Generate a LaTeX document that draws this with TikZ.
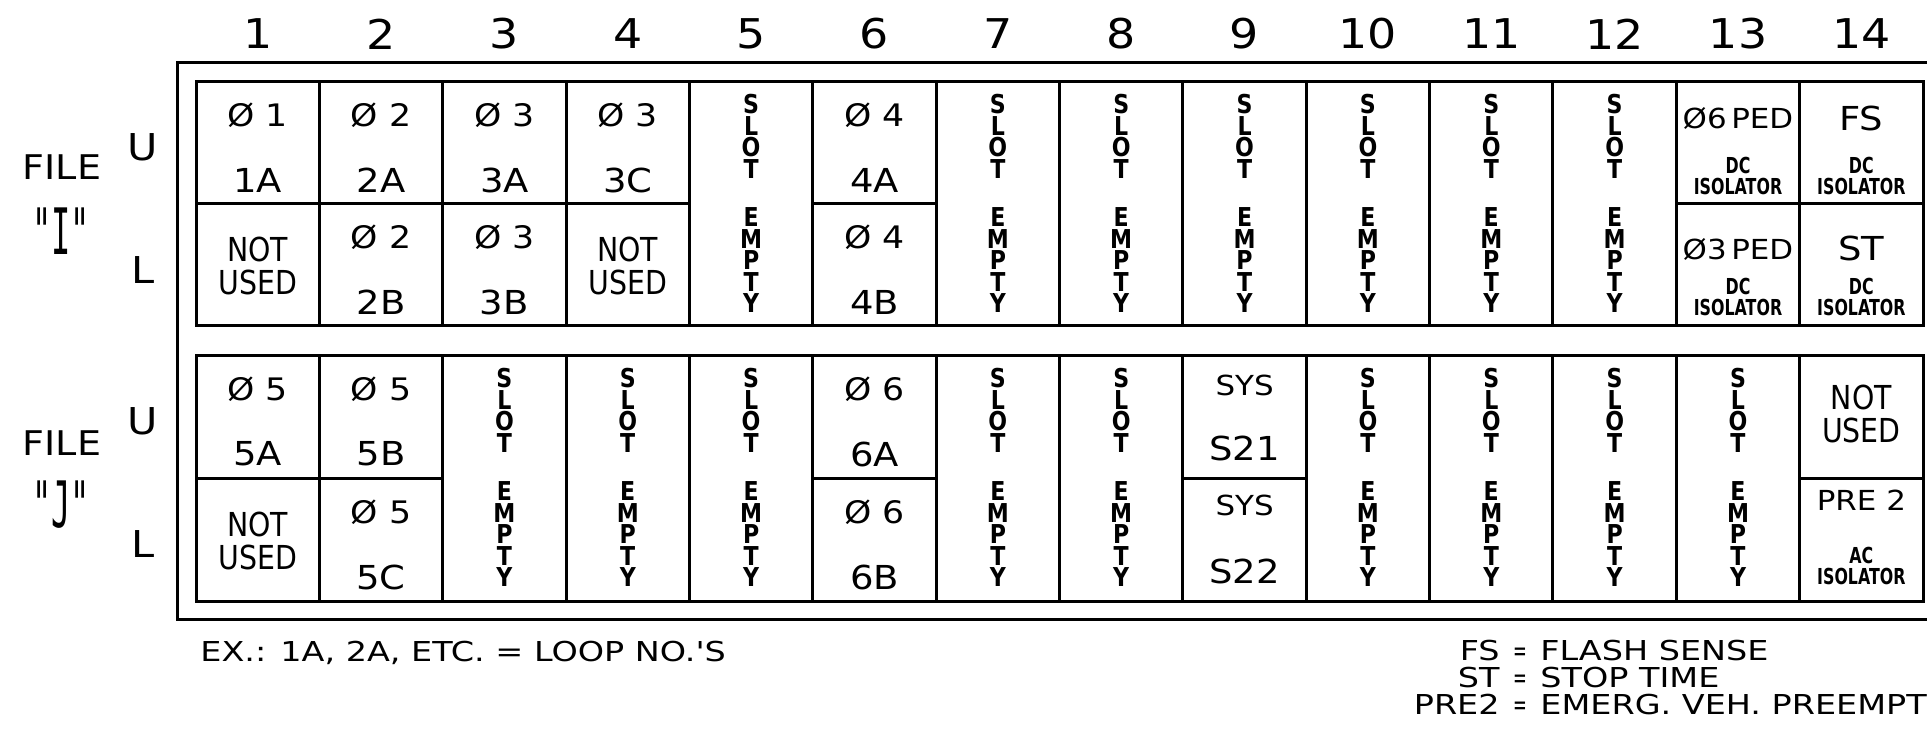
\documentclass[tikz,border=0pt]{standalone}
\usepackage{fontspec}
\setmainfont{DejaVu Sans}
\newfontfamily\cadf[FakeStretch=1.12]{DejaVu Sans}
\newfontfamily\cadn[FakeStretch=0.86]{DejaVu Sans}
\newfontfamily\cadb[FakeStretch=0.72]{DejaVu Sans}
\newfontfamily\cadv[FakeStretch=0.85]{DejaVu Sans}
\newfontfamily\cadl[FakeStretch=1.22]{DejaVu Sans}
\newfontfamily\cadq[FakeStretch=0.6]{DejaVu Sans}
\newfontfamily\labf[FakeStretch=0.5]{DejaVu Sans Mono}
\newcommand\pcell[5]{%
  \node[ph]  (#1p) at ({196+123.36*(#2-0.5)},{#3+34}) {#4};
  \node[lab] (#1l) at ({196+123.36*(#2-0.5)},{#3+99}) {#5};}
\tikzset{
  frame/.style={line width=1.5pt},
  head/.style={font=\cadf\fontsize{20.5}{22}\selectfont,inner sep=0pt},
  lab/.style={font=\cadf\fontsize{16.5}{18}\selectfont,inner sep=0pt},
  ph/.style={font=\cadf\fontsize{15.5}{16}\selectfont,inner sep=0pt},
  ped/.style={font=\cadf\fontsize{13.8}{16}\selectfont,inner sep=0pt},
  nu/.style={font=\cadn\fontsize{16.5}{16.5}\selectfont,align=center,inner sep=0pt},
  vt/.style={font=\cadv\bfseries\fontsize{13}{10.75}\selectfont,align=center,inner sep=0pt},
  iso/.style={font=\cadb\bfseries\fontsize{11}{10.5}\selectfont,align=center,inner sep=0pt},
  side/.style={font=\cadf\fontsize{17}{18}\selectfont,inner sep=0pt},
  ul/.style={font=\cadf\fontsize{18.5}{20}\selectfont,inner sep=0pt},
  fl/.style={font=\labf\fontsize{32}{32}\selectfont,inner sep=0pt},
  leg/.style={font=\cadl\fontsize{13.7}{15}\selectfont,inner sep=0pt},
  legeq/.style={font=\cadq\fontsize{13.7}{15}\selectfont,inner sep=0pt},
}
\begin{document}
\begin{tikzpicture}[x=0.5pt,y=-0.5pt]
\useasboundingbox (0,0) rectangle (1927,755);
\clip (0,0) rectangle (1927,755);
% outer frame
\draw[frame] (177,62) rectangle (1945,619);
% bands
\draw[frame] (196,81) rectangle (1923,325);
\draw[frame] (196,355) rectangle (1923,601);
\foreach \i in {1,...,13} {
  \draw[frame] ({196+123.36*\i},81) -- ({196+123.36*\i},325);
  \draw[frame] ({196+123.36*\i},355) -- ({196+123.36*\i},601);
}
% U/L splits, file I
\draw[frame] (196,203) -- ({196+4*123.36},203);
\draw[frame] ({196+5*123.36},203) -- ({196+6*123.36},203);
\draw[frame] ({196+12*123.36},203) -- (1923,203);
% U/L splits, file J
\draw[frame] (196,478) -- ({196+2*123.36},478);
\draw[frame] ({196+5*123.36},478) -- ({196+6*123.36},478);
\draw[frame] ({196+8*123.36},478) -- ({196+9*123.36},478);
\draw[frame] ({196+13*123.36},478) -- (1923,478);
% column headers
\foreach \c in {1,...,14}
  \node[head] (h\c) at ({196+123.36*(\c-0.5)},34) {\c};
% side labels
\node[side] (fileI) at (62,167) {FILE};
\node[fl] (nameI) at (61,231) {"I"};
\node[ul] (uI) at (143,147) {U};
\node[ul] (lI) at (143,270) {L};
\node[side] (fileJ) at (62,443) {FILE};
\node[fl] (nameJ) at (61,505) {"J"};
\node[ul] (uJ) at (143,421) {U};
\node[ul] (lJ) at (143,544) {L};
% file I cells
\pcell{i1u}{1}{81}{Ø 1}{1A}
\node[nu] (i1l) at ({196+123.36*0.5},266) {NOT\\USED};
\pcell{i2u}{2}{81}{Ø 2}{2A}
\pcell{i2l}{2}{203}{Ø 2}{2B}
\pcell{i3u}{3}{81}{Ø 3}{3A}
\pcell{i3l}{3}{203}{Ø 3}{3B}
\pcell{i4u}{4}{81}{Ø 3}{3C}
\node[nu] (i4l) at ({196+123.36*3.5},266) {NOT\\USED};
\pcell{i6u}{6}{81}{Ø 4}{4A}
\pcell{i6l}{6}{203}{Ø 4}{4B}
\foreach \c in {5,7,8,9,10,11,12} {
  \node[vt] (is\c) at ({196+123.36*(\c-0.5)},136.5) {S\\L\\O\\T};
  \node[vt] (ie\c) at ({196+123.36*(\c-0.5)},260.5) {E\\M\\P\\T\\Y};
}
\node[ped] (i13u) at ({196+123.36*12.5},118) {Ø6\,PED};
\node[iso] (i13ui) at ({196+123.36*12.5},176) {DC\\ISOLATOR};
\node[ped] (i13l) at ({196+123.36*12.5},249) {Ø3\,PED};
\node[iso] (i13li) at ({196+123.36*12.5},297) {DC\\ISOLATOR};
\node[lab] (i14u) at ({196+123.36*13.5},118) {FS};
\node[iso] (i14ui) at ({196+123.36*13.5},176) {DC\\ISOLATOR};
\node[lab] (i14l) at ({196+123.36*13.5},248) {ST};
\node[iso] (i14li) at ({196+123.36*13.5},297) {DC\\ISOLATOR};
% file J cells
\pcell{j1u}{1}{355}{Ø 5}{5A}
\node[nu] (j1l) at ({196+123.36*0.5},541) {NOT\\USED};
\pcell{j2u}{2}{355}{Ø 5}{5B}
\pcell{j2l}{2}{478}{Ø 5}{5C}
\pcell{j6u}{6}{355}{Ø 6}{6A}
\pcell{j6l}{6}{478}{Ø 6}{6B}
\foreach \c in {3,4,5,7,8,10,11,12,13} {
  \node[vt] (js\c) at ({196+123.36*(\c-0.5)},410.5) {S\\L\\O\\T};
  \node[vt] (je\c) at ({196+123.36*(\c-0.5)},534.5) {E\\M\\P\\T\\Y};
}
\node[ped] (j9up) at ({196+123.36*8.5},385) {SYS};
\node[lab] (j9ul) at ({196+123.36*8.5},448) {S21};
\node[ped] (j9lp) at ({196+123.36*8.5},505) {SYS};
\node[lab] (j9ll) at ({196+123.36*8.5},571) {S22};
\node[nu] (j14u) at ({196+123.36*13.5},414) {NOT\\USED};
\node[ped] (j14l) at ({196+123.36*13.5},500) {PRE 2};
\node[iso] (j14li) at ({196+123.36*13.5},566) {AC\\ISOLATOR};
% legend
\node[leg,anchor=base west] (ex) at (200,661) {EX.: 1A, 2A, ETC. = LOOP NO.'S};
\node[leg,anchor=base east] (fsA) at (1500,660) {FS};
\node[legeq,anchor=base] (fsE) at (1520,660) {=};
\node[leg,anchor=base west] (fsD) at (1540,660) {FLASH SENSE};
\node[leg,anchor=base east] (stA) at (1500,687) {ST};
\node[legeq,anchor=base] (stE) at (1520,687) {=};
\node[leg,anchor=base west] (stD) at (1540,687) {STOP TIME};
\node[leg,anchor=base east] (prA) at (1500,714) {PRE2};
\node[legeq,anchor=base] (prE) at (1520,714) {=};
\node[leg,anchor=base west] (prD) at (1540,714) {EMERG. VEH. PREEMPT};
\end{tikzpicture}
\end{document}
